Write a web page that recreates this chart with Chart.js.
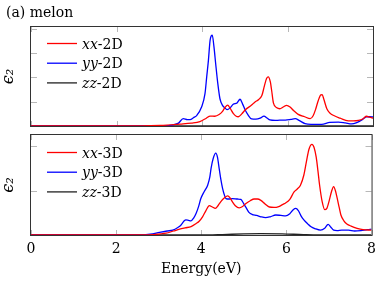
<!DOCTYPE html>
<html>
<head>
<meta charset="utf-8">
<script src="https://cdn.jsdelivr.net/npm/chart.js@4.4.1/dist/chart.umd.min.js"></script>
<style>
html, body { margin: 0; padding: 0; background: #fff; }
#wrap { position: relative; width: 382px; height: 284px; }
#top { position: absolute; left: 0; top: 0; }
#bottom { position: absolute; left: 0; top: 130px; }
</style>
</head>
<body>
<div id="wrap">
  <canvas id="top" width="382" height="130"></canvas>
  <canvas id="bottom" width="382" height="154"></canvas>
</div>
<script>
// energy axis ticks (eV)
const xTicks = [0, 2, 4, 6, 8];
const yTicksTop = [0, 1, 2, 3, 4];
const yTicksBottom = [0, 1, 2];

// 2D panel
const xx2dE = [0, 2.6, 3.02, 3.49, 3.75, 3.95, 4.10, 4.19, 4.30, 4.40, 4.48, 4.54, 4.60, 4.66, 4.73, 4.80, 4.85, 4.93, 5.01, 5.16, 5.24, 5.32, 5.40, 5.46, 5.51, 5.55, 5.60, 5.63, 5.67, 5.75, 5.82, 5.90, 5.98, 6.06, 6.14, 6.25, 6.40, 6.53, 6.60, 6.66, 6.72, 6.78, 6.81, 6.85, 6.92, 7.00, 7.07, 7.23, 7.42, 7.54, 7.66, 7.77, 7.85, 7.92, 8.0];
const xx2dV = [0, 0, 0.02, 0.08, 0.12, 0.18, 0.32, 0.41, 0.40, 0.47, 0.60, 0.77, 0.86, 0.72, 0.52, 0.40, 0.38, 0.50, 0.66, 0.86, 0.99, 1.08, 1.25, 1.65, 1.95, 2.02, 1.80, 1.45, 0.95, 0.75, 0.71, 0.78, 0.85, 0.78, 0.64, 0.48, 0.38, 0.30, 0.42, 0.70, 1.05, 1.28, 1.29, 1.10, 0.71, 0.52, 0.44, 0.32, 0.21, 0.21, 0.23, 0.30, 0.40, 0.36, 0.32];

const yy2dE = [0, 3.0, 3.33, 3.45, 3.56, 3.66, 3.72, 3.80, 3.88, 3.99, 4.07, 4.11, 4.15, 4.19, 4.24, 4.28, 4.32, 4.37, 4.42, 4.48, 4.54, 4.59, 4.66, 4.73, 4.82, 4.89, 4.95, 5.01, 5.08, 5.16, 5.26, 5.36, 5.45, 5.52, 5.59, 5.71, 5.82, 5.95, 6.08, 6.18, 6.28, 6.41, 6.55, 6.80, 6.99, 7.19, 7.35, 7.50, 7.62, 7.74, 7.85, 7.93, 8.0];
const yy2dV = [0, 0, 0.05, 0.12, 0.30, 0.26, 0.26, 0.34, 0.44, 0.78, 1.33, 2.02, 2.70, 3.53, 3.73, 3.25, 2.56, 1.74, 1.12, 0.85, 0.74, 0.67, 0.75, 0.89, 0.95, 1.10, 0.90, 0.66, 0.45, 0.29, 0.28, 0.32, 0.41, 0.33, 0.25, 0.23, 0.24, 0.24, 0.27, 0.30, 0.22, 0.10, 0.07, 0.07, 0.15, 0.16, 0.13, 0.09, 0.14, 0.25, 0.38, 0.38, 0.37];

const zz2dE = [0, 8];
const zz2dV = [0, 0];

// 3D panel
const xx3dE = [0, 2.6, 2.9, 3.17, 3.35, 3.49, 3.62, 3.76, 3.88, 3.95, 4.03, 4.11, 4.19, 4.26, 4.33, 4.40, 4.46, 4.54, 4.62, 4.68, 4.73, 4.80, 4.89, 4.97, 5.05, 5.15, 5.24, 5.32, 5.40, 5.50, 5.60, 5.71, 5.82, 5.92, 5.98, 6.08, 6.18, 6.25, 6.33, 6.41, 6.47, 6.53, 6.60, 6.65, 6.70, 6.74, 6.78, 6.84, 6.90, 6.95, 7.01, 7.06, 7.11, 7.15, 7.19, 7.24, 7.28, 7.35, 7.42, 7.52, 7.66, 7.80, 8.0];
const xx3dV = [0, 0, 0.01, 0.04, 0.09, 0.13, 0.16, 0.19, 0.26, 0.31, 0.41, 0.55, 0.66, 0.63, 0.60, 0.67, 0.75, 0.83, 0.88, 0.83, 0.75, 0.66, 0.61, 0.64, 0.71, 0.77, 0.81, 0.81, 0.78, 0.70, 0.63, 0.62, 0.64, 0.69, 0.72, 0.80, 0.97, 1.03, 1.12, 1.35, 1.65, 1.93, 2.04, 1.97, 1.75, 1.45, 1.12, 0.75, 0.57, 0.60, 0.79, 0.98, 1.09, 1.00, 0.84, 0.62, 0.45, 0.32, 0.25, 0.20, 0.15, 0.12, 0.11];

const yy3dE = [0, 2.5, 2.8, 3.02, 3.20, 3.33, 3.45, 3.52, 3.60, 3.64, 3.70, 3.76, 3.82, 3.88, 3.94, 3.99, 4.07, 4.15, 4.20, 4.23, 4.28, 4.34, 4.38, 4.42, 4.46, 4.50, 4.55, 4.58, 4.65, 4.73, 4.85, 4.93, 5.00, 5.05, 5.12, 5.20, 5.30, 5.40, 5.51, 5.62, 5.75, 5.87, 5.98, 6.08, 6.16, 6.22, 6.28, 6.35, 6.41, 6.50, 6.57, 6.68, 6.80, 6.90, 6.98, 7.04, 7.11, 7.19, 7.30, 7.46, 7.60, 7.75, 7.90, 8.0];
const yy3dV = [0, 0, 0.02, 0.06, 0.09, 0.11, 0.17, 0.22, 0.32, 0.34, 0.33, 0.32, 0.38, 0.49, 0.65, 0.82, 0.98, 1.12, 1.30, 1.50, 1.72, 1.84, 1.75, 1.50, 1.25, 1.05, 0.88, 0.82, 0.81, 0.82, 0.81, 0.80, 0.70, 0.62, 0.51, 0.46, 0.44, 0.41, 0.39, 0.41, 0.45, 0.44, 0.43, 0.48, 0.57, 0.60, 0.55, 0.42, 0.34, 0.25, 0.19, 0.14, 0.11, 0.15, 0.24, 0.18, 0.11, 0.10, 0.11, 0.11, 0.09, 0.10, 0.12, 0.13];

const zz3dE = [0, 4.0, 4.5, 5.0, 5.4, 5.9, 6.4, 7.0, 8.0];
const zz3dV = [0, 0, 0.01, 0.025, 0.03, 0.025, 0.01, 0, 0];

const RED = '#ff0000', BLUE = '#0000ff', BLACK = '#222222';

Chart.defaults.font.family = "'DejaVu Serif', serif";
Chart.defaults.font.size = 14;
Chart.defaults.color = '#000';

const pts = (e, v) => e.map((x, i) => ({x: x, y: v[i]}));

const line = (label, e, v, color) => ({
    label: label,
    data: pts(e, v),
    borderColor: color,
    backgroundColor: color,
    borderWidth: 1.3,
    pointRadius: 0,
    fill: false,
    cubicInterpolationMode: 'monotone'
});

// pgfplots-like frame: inside tick marks, box, legend in the upper left
const frame = {
    id: 'frame',
    beforeDatasetsDraw(chart, args, opts) {
        const {ctx, chartArea: a, scales} = chart;
        ctx.save();
        ctx.strokeStyle = '#b8b8b8';
        ctx.lineWidth = 1;
        ctx.beginPath();
        xTicks.forEach(v => {
            const px = Math.round(scales.x.getPixelForValue(v)) + 0.5;
            ctx.moveTo(px, a.bottom); ctx.lineTo(px, a.bottom - 5);
            ctx.moveTo(px, a.top); ctx.lineTo(px, a.top + 5);
        });
        opts.yTicks.forEach(v => {
            const py = Math.round(scales.y.getPixelForValue(v)) + 0.5;
            ctx.moveTo(a.left, py); ctx.lineTo(a.left + 6, py);
            ctx.moveTo(a.right, py); ctx.lineTo(a.right - 6, py);
        });
        ctx.stroke();
        ctx.restore();
    },
    afterDatasetsDraw(chart, args, opts) {
        const {ctx, chartArea: a} = chart;
        ctx.save();
        ctx.strokeStyle = '#333';
        ctx.lineWidth = 1;
        ctx.strokeRect(a.left - 0.5, a.top - 0.5, a.right - a.left + 1, a.bottom - a.top + 1);

        chart.data.datasets.forEach((ds, i) => {
            const y = a.top + opts.legendTop + i * opts.legendStep;
            ctx.strokeStyle = ds.borderColor;
            ctx.lineWidth = 1.3;
            ctx.beginPath();
            ctx.moveTo(a.left + 16, y);
            ctx.lineTo(a.left + 46, y);
            ctx.stroke();
            const k = ds.label.indexOf('-');
            const it = ds.label.slice(0, k), rest = ds.label.slice(k);
            ctx.fillStyle = '#000';
            ctx.textBaseline = 'alphabetic';
            ctx.textAlign = 'left';
            ctx.font = "italic 14px 'DejaVu Serif'";
            ctx.fillText(it, a.left + 51, y + 5);
            const w = ctx.measureText(it).width;
            ctx.font = "14px 'DejaVu Serif'";
            ctx.fillText(rest, a.left + 51 + w, y + 5);
        });

        if (opts.caption) {
            ctx.font = "14px 'DejaVu Serif'";
            ctx.fillStyle = '#000';
            ctx.fillText(opts.caption, 6, 17);
        }
        ctx.restore();
    }
};

function makeChart(id, datasets, yMax, yTicks, showX, pad, caption, legendTop) {
    return new Chart(document.getElementById(id), {
        type: 'line',
        data: {datasets: datasets},
        options: {
            responsive: false,
            animation: false,
            devicePixelRatio: 1,
            layout: {padding: pad},
            scales: {
                x: {
                    type: 'linear',
                    min: 0,
                    max: 8,
                    grid: {display: false, drawTicks: false},
                    border: {display: false},
                    ticks: {
                        display: showX,
                        stepSize: 2,
                        padding: 6,
                        maxRotation: 0,
                        font: {size: 14}
                    },
                    title: {
                        display: showX,
                        text: 'Energy(eV)',
                        font: {size: 14},
                        padding: {top: 0, bottom: 3}
                    },
                    afterFit: s => { s.height = showX ? 46 : 0; }
                },
                y: {
                    min: 0,
                    max: yMax,
                    grid: {display: false, drawTicks: false},
                    border: {display: false},
                    ticks: {display: false},
                    title: {
                        display: true,
                        text: 'ϵ₂',
                        font: {size: 16, style: 'italic', lineHeight: 1},
                        padding: {top: 1, bottom: 0}
                    },
                    afterFit: s => { s.width = 31; }
                }
            },
            plugins: {
                legend: {display: false},
                tooltip: {enabled: false},
                frame: {yTicks: yTicks, caption: caption, legendTop: legendTop, legendStep: 19.7}
            }
        },
        plugins: [frame]
    });
}

makeChart('top', [
    line('xx-2D', xx2dE, xx2dV, RED),
    line('yy-2D', yy2dE, yy2dV, BLUE),
    line('zz-2D', zz2dE, zz2dV, BLACK)
], 4.07, yTicksTop, false, {top: 27, right: 9, bottom: 4, left: 0}, '(a) melon', 16.5);

makeChart('bottom', [
    line('xx-3D', xx3dE, xx3dV, RED),
    line('yy-3D', yy3dE, yy3dV, BLUE),
    line('zz-3D', zz3dE, zz3dV, BLACK)
], 2.25, yTicksBottom, true, {top: 5, right: 9, bottom: 3, left: 0}, null, 17.5);
</script>
</body>
</html>
